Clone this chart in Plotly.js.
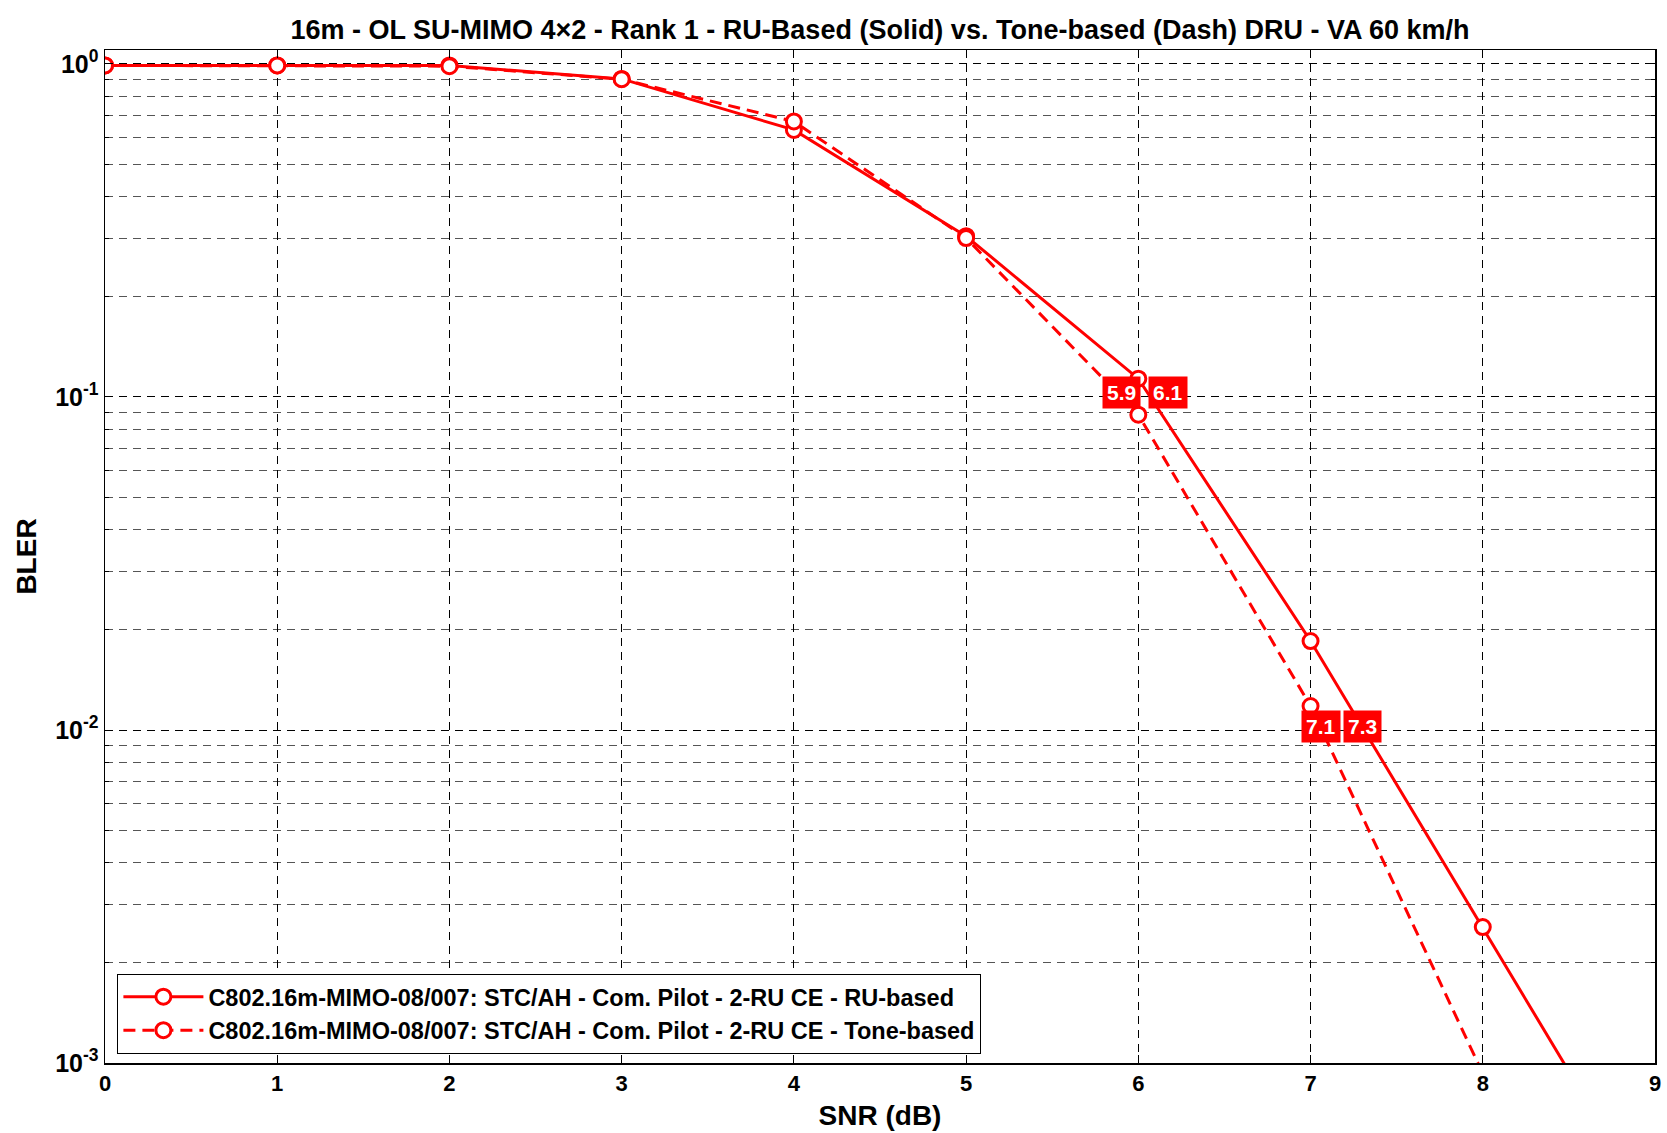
<!DOCTYPE html>
<html>
<head>
<meta charset="utf-8">
<script src="https://cdn.plot.ly/plotly-3.0.1.min.js"></script>
<style>html,body{margin:0;padding:0;background:#fff;}#chart{width:1667px;height:1133px;}</style>
</head>
<body>
<div id="chart"></div>
<script>
// ---- data ----
const snr = [0, 1, 2, 3, 4, 5, 6, 7, 8, 9];
const bler_ru = [0.99, 0.99, 0.99, 0.902, 0.634, 0.304, 0.1135, 0.0185, 0.00256, 0.00035];
const snr_tone = [0, 1, 2, 3, 4, 5, 6, 7, 8];
const bler_tone = [0.99, 0.99, 0.985, 0.9, 0.672, 0.3, 0.0885, 0.0118, 0.00093];
const seriesNames = [
  'C802.16m-MIMO-08/007: STC/AH - Com. Pilot - 2-RU CE - RU-based',
  'C802.16m-MIMO-08/007: STC/AH - Com. Pilot - 2-RU CE - Tone-based'
];
const labelText = ['5.9', '6.1', '7.1', '7.3'];
const labelLevel = [0.1, 0.1, 0.01, 0.01];
const yTickVals = [0.001, 0.01, 0.1, 1];
const yTickText = ['10<sup>-3</sup>', '10<sup>-2</sup>', '10<sup>-1</sup>', '10<sup>0</sup>'];
const titleText = '16m - OL SU-MIMO 4\u00d72 - Rank 1 - RU-Based (Solid) vs. Tone-based (Dash) DRU - VA 60 km/h';

// ---- styling ----
const RED = '#ff0000';
const FONT = 'Liberation Sans, Arial, sans-serif';
const markerStyle = {symbol: 'circle', size: 15, color: '#ffffff', line: {color: RED, width: 3}};
const labelShift = [0, 12, -7, 0];

const traces = [
  {x: snr, y: bler_ru, name: seriesNames[0], mode: 'lines+markers', cliponaxis: true,
   line: {color: RED, width: 3}, marker: markerStyle},
  {x: snr_tone, y: bler_tone, name: seriesNames[1], mode: 'lines+markers', cliponaxis: true,
   line: {color: RED, width: 3, dash: '12px,7px'}, marker: markerStyle}
];

const annotations = labelText.map((t, i) => ({
  x: parseFloat(t), y: Math.log10(labelLevel[i]), xref: 'x', yref: 'y',
  text: '<b>' + t + '</b>', showarrow: false, xanchor: 'center', yanchor: 'middle',
  xshift: labelShift[i], yshift: 4,
  bgcolor: RED, borderpad: 4, font: {family: FONT, size: 21, color: '#ffffff'}
}));

const axisCommon = {
  showline: true, linecolor: '#000', linewidth: 1.5, mirror: 'allticks',
  ticks: 'inside', ticklen: 8, tickcolor: '#000', tickwidth: 1,
  zeroline: false, gridcolor: '#000', griddash: '8px,6px', gridwidth: 1,
  tickfont: {family: FONT, size: 22, color: '#000', weight: 'bold'}
};

const layout = {
  width: 1667, height: 1133,
  paper_bgcolor: '#fff', plot_bgcolor: '#fff',
  margin: {l: 105, r: 12, t: 50, b: 70},
  title: {text: titleText, x: 0.5, xref: 'paper', xanchor: 'center', y: 0.982, yref: 'container',
          font: {family: FONT, size: 27, color: '#000', weight: 'bold'}},
  xaxis: Object.assign({}, axisCommon, {
    range: [0, 9], dtick: 1, tick0: 0,
    title: {text: 'SNR (dB)', standoff: 10, font: {family: FONT, size: 28, color: '#000', weight: 'bold'}}
  }),
  yaxis: Object.assign({}, axisCommon, {
    type: 'log', range: [-3, 0.042], tickmode: 'array', tickvals: yTickVals, ticktext: yTickText,
    tickfont: {family: FONT, size: 25, color: '#000', weight: 'bold'},
    minor: {dtick: 'D1', showgrid: true, gridcolor: '#555', griddash: '8px,6px', gridwidth: 1,
            ticks: 'inside', ticklen: 4, tickcolor: '#000'},
    title: {text: 'BLER', standoff: 10, font: {family: FONT, size: 28, color: '#000', weight: 'bold'}}
  }),
  showlegend: true,
  legend: {x: 0.008, y: 0.009, xanchor: 'left', yanchor: 'bottom', bgcolor: '#fff',
           bordercolor: '#000', borderwidth: 1, itemwidth: 80, tracegroupgap: 0,
           font: {family: FONT, size: 23.5, color: '#000', weight: 'bold'}},
  annotations: annotations
};

Plotly.newPlot('chart', traces, layout, {staticPlot: true, displayModeBar: false});
</script>
</body>
</html>
